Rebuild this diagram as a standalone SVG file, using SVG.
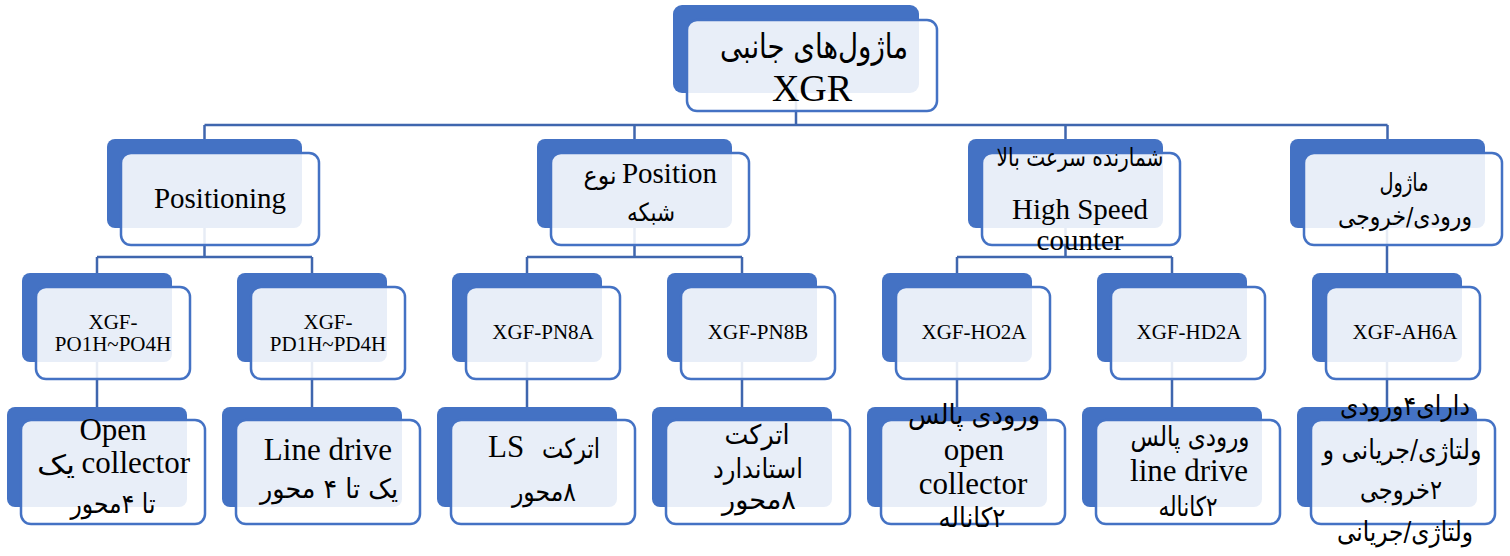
<svg xmlns="http://www.w3.org/2000/svg" width="1510" height="556" viewBox="0 0 1510 556">
<style>
.bk{fill:#4472C4}
.fr{fill:#FFFFFF;fill-opacity:0.88;stroke:#4472C4;stroke-width:2.5}
.cn{fill:none;stroke:#3F66AE;stroke-width:2.5}
.t{font-family:"Liberation Serif","DejaVu Sans",serif;fill:#000;text-anchor:middle}
.fa{font-family:"DejaVu Sans","Liberation Serif",sans-serif;fill:#000;text-anchor:middle;direction:rtl}
.s2{font-size:29px}
.s3{font-size:21px}
.s4{font-size:31px}
.f2{font-size:25px}
.f4{font-size:27px}
</style>
<rect width="1510" height="556" fill="#FFFFFF"/>
<g id="connectors">
<path class="cn" d="M796,93V125M204.5,125H1387.5M204.5,125V139M634.5,125V139M1065.5,125V139M1387.5,125V139"/>
<path class="cn" d="M204.5,228V257M97,257H312M97,257V273M312,257V273"/>
<path class="cn" d="M634.5,228V257M527,257H742M527,257V273M742,257V273"/>
<path class="cn" d="M1065.5,228V257M957,257H1172M957,257V273M1172,257V273"/>
<path class="cn" d="M1387,228V273"/>
<path class="cn" d="M97,362V407M312,362V407M527,362V407M742,362V407M957,362V407M1172,362V407M1387,362V407"/>
</g>
<g id="root">
<rect class="bk" x="673" y="5" width="246" height="88" rx="9"/>
<rect class="fr" x="687" y="20" width="250" height="91" rx="10"/>
<text class="fa" x="814" y="58" font-size="34" textLength="188" lengthAdjust="spacingAndGlyphs">ماژول‌های جانبی</text>
<text class="t" x="812" y="101" font-size="38">XGR</text>
</g>
<g id="n-positioning">
<rect class="bk" x="107" y="139" width="195" height="89" rx="8"/>
<rect class="fr" x="121" y="153" width="198" height="92" rx="10"/>
<text class="t s2" x="220" y="208">Positioning</text>
</g>
<g id="n-network">
<rect class="bk" x="537" y="139" width="195" height="89" rx="8"/>
<rect class="fr" x="551" y="153" width="198" height="92" rx="10"/>
<text class="t s2" x="717" y="183" style="text-anchor:end">Position</text>
<text class="fa f2" x="600" y="184" textLength="33" lengthAdjust="spacingAndGlyphs">نوع</text>
<text class="fa f2" x="651" y="221" textLength="48" lengthAdjust="spacingAndGlyphs">شبکه</text>
</g>
<g id="n-highspeed">
<rect class="bk" x="968" y="139" width="195" height="89" rx="8"/>
<rect class="fr" x="982" y="153" width="198" height="92" rx="10"/>
<text class="fa f2" x="1080" y="166" textLength="167" lengthAdjust="spacingAndGlyphs">شمارنده سرعت بالا</text>
<text class="t s2" x="1080" y="219">High Speed</text>
<text class="t s2" x="1080" y="250">counter</text>
</g>
<g id="n-io">
<rect class="bk" x="1290" y="139" width="195" height="89" rx="8"/>
<rect class="fr" x="1304" y="153" width="198" height="92" rx="10"/>
<text class="fa f2" x="1404" y="191" textLength="49" lengthAdjust="spacingAndGlyphs">ماژول</text>
<text class="fa f2" x="1405" y="225" textLength="134" lengthAdjust="spacingAndGlyphs">ورودی/خروجی</text>
</g>
<g id="n-po">
<rect class="bk" x="22" y="273" width="150" height="89" rx="8"/>
<rect class="fr" x="36" y="287" width="154" height="92" rx="10"/>
<text class="t s3" x="113" y="329">XGF-</text>
<text class="t s3" x="113" y="351">PO1H~PO4H</text>
</g>
<g id="n-pd">
<rect class="bk" x="237" y="273" width="150" height="89" rx="8"/>
<rect class="fr" x="251" y="287" width="154" height="92" rx="10"/>
<text class="t s3" x="328" y="329">XGF-</text>
<text class="t s3" x="328" y="351">PD1H~PD4H</text>
</g>
<g id="n-pn8a">
<rect class="bk" x="452" y="273" width="150" height="89" rx="8"/>
<rect class="fr" x="466" y="287" width="154" height="92" rx="10"/>
<text class="t s3" x="543" y="339">XGF-PN8A</text>
</g>
<g id="n-pn8b">
<rect class="bk" x="667" y="273" width="150" height="89" rx="8"/>
<rect class="fr" x="681" y="287" width="154" height="92" rx="10"/>
<text class="t s3" x="758" y="339">XGF-PN8B</text>
</g>
<g id="n-ho2a">
<rect class="bk" x="882" y="273" width="150" height="89" rx="8"/>
<rect class="fr" x="896" y="287" width="154" height="92" rx="10"/>
<text class="t s3" x="974" y="339">XGF-HO2A</text>
</g>
<g id="n-hd2a">
<rect class="bk" x="1097" y="273" width="150" height="89" rx="8"/>
<rect class="fr" x="1111" y="287" width="154" height="92" rx="10"/>
<text class="t s3" x="1189" y="339">XGF-HD2A</text>
</g>
<g id="n-ah6a">
<rect class="bk" x="1312" y="273" width="150" height="89" rx="8"/>
<rect class="fr" x="1326" y="287" width="154" height="92" rx="10"/>
<text class="t s3" x="1405" y="339">XGF-AH6A</text>
</g>
<g id="d-po">
<rect class="bk" x="7" y="407" width="180" height="100" rx="8"/>
<rect class="fr" x="21" y="420" width="184" height="104" rx="10"/>
<text class="t s4" x="113" y="440">Open</text>
<text class="t s4" x="190" y="473" style="text-anchor:end">collector</text>
<text class="fa f4" x="56" y="474" textLength="38" lengthAdjust="spacingAndGlyphs">یک</text>
<text class="fa f4" x="113" y="513" textLength="85" lengthAdjust="spacingAndGlyphs">تا ۴محور</text>
</g>
<g id="d-pd">
<rect class="bk" x="222" y="407" width="180" height="100" rx="8"/>
<rect class="fr" x="236" y="420" width="184" height="104" rx="10"/>
<text class="t s4" x="328" y="460">Line drive</text>
<text class="fa f4" x="329" y="498" textLength="138" lengthAdjust="spacingAndGlyphs">یک تا ۴ محور</text>
</g>
<g id="d-pn8a">
<rect class="bk" x="437" y="407" width="180" height="100" rx="8"/>
<rect class="fr" x="451" y="420" width="184" height="104" rx="10"/>
<text class="t s4" x="488" y="457" style="text-anchor:start">LS</text>
<text class="fa f4" x="571" y="458" textLength="58" lengthAdjust="spacingAndGlyphs">اترکت</text>
<text class="fa f4" x="544" y="501" textLength="64" lengthAdjust="spacingAndGlyphs">۸محور</text>
</g>
<g id="d-pn8b">
<rect class="bk" x="652" y="407" width="180" height="100" rx="8"/>
<rect class="fr" x="666" y="420" width="184" height="104" rx="10"/>
<text class="fa f4" x="757" y="444" textLength="65" lengthAdjust="spacingAndGlyphs">اترکت</text>
<text class="fa f4" x="758" y="478" textLength="90" lengthAdjust="spacingAndGlyphs">استاندارد</text>
<text class="fa f4" x="759" y="509" textLength="74" lengthAdjust="spacingAndGlyphs">۸محور</text>
</g>
<g id="d-ho2a">
<rect class="bk" x="867" y="407" width="180" height="100" rx="8"/>
<rect class="fr" x="881" y="420" width="184" height="104" rx="10"/>
<text class="fa f4" x="974" y="424" textLength="132" lengthAdjust="spacingAndGlyphs">ورودی پالس</text>
<text class="t s4" x="974" y="460">open</text>
<text class="t s4" x="973" y="494">collector</text>
<text class="fa f4" x="972" y="527" textLength="67" lengthAdjust="spacingAndGlyphs">۲کاناله</text>
</g>
<g id="d-hd2a">
<rect class="bk" x="1082" y="407" width="180" height="100" rx="8"/>
<rect class="fr" x="1096" y="420" width="184" height="104" rx="10"/>
<text class="fa f4" x="1190" y="446" textLength="119" lengthAdjust="spacingAndGlyphs">ورودی پالس</text>
<text class="t s4" x="1189" y="481">line drive</text>
<text class="fa f4" x="1188" y="516" textLength="59" lengthAdjust="spacingAndGlyphs">۲کاناله</text>
</g>
<g id="d-ah6a">
<rect class="bk" x="1297" y="407" width="180" height="100" rx="8"/>
<rect class="fr" x="1311" y="420" width="184" height="104" rx="10"/>
<text class="fa f4" x="1405" y="415" textLength="130" lengthAdjust="spacingAndGlyphs">دارای۴ورودی</text>
<text class="fa f4" x="1402" y="459" textLength="159" lengthAdjust="spacingAndGlyphs">ولتاژی/جریانی و</text>
<text class="fa f4" x="1401" y="499" textLength="82" lengthAdjust="spacingAndGlyphs">۲خروجی</text>
<text class="fa f4" x="1405" y="541" textLength="136" lengthAdjust="spacingAndGlyphs">ولتاژی/جریانی</text>
</g>
</svg>
